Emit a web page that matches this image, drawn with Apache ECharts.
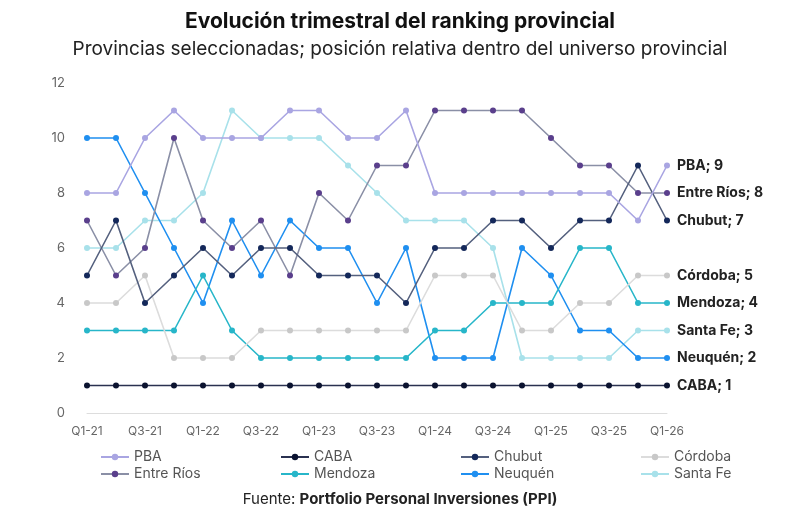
<!DOCTYPE html>
<html><head><meta charset="utf-8">
<script src="https://cdn.jsdelivr.net/npm/echarts@6/dist/echarts.min.js"></script>
<style>body{margin:0;background:#fff}#c{width:800px;height:522px}</style>
</head><body><div id="c"></div>
<script>
var quarters = ['Q1-21','Q2-21','Q3-21','Q4-21','Q1-22','Q2-22','Q3-22','Q4-22','Q1-23','Q2-23','Q3-23','Q4-23','Q1-24','Q2-24','Q3-24','Q4-24','Q1-25','Q2-25','Q3-25','Q4-25','Q1-26'];
var pba      = [8,8,10,11,10,10,10,11,11,10,10,11,8,8,8,8,8,8,8,7,9];
var caba     = [1,1,1,1,1,1,1,1,1,1,1,1,1,1,1,1,1,1,1,1,1];
var chubut   = [5,7,4,5,6,5,6,6,5,5,5,4,6,6,7,7,6,7,7,9,7];
var cordoba  = [4,4,5,2,2,2,3,3,3,3,3,3,5,5,5,3,3,4,4,5,5];
var entreRios= [7,5,6,10,7,6,7,5,8,7,9,9,11,11,11,11,10,9,9,8,8];
var mendoza  = [3,3,3,3,5,3,2,2,2,2,2,2,3,3,4,4,4,6,6,4,4];
var neuquen  = [10,10,8,6,4,7,5,7,6,6,4,6,2,2,2,6,5,3,3,2,2];
var santaFe  = [6,6,7,7,8,11,10,10,10,9,8,7,7,7,6,2,2,2,2,3,3];

var chart = echarts.init(document.getElementById('c'));
var F = 'Inter, "Noto Sans", sans-serif';

// nombre, datos, color de línea, color de punto
var defs = [
  ['PBA', pba, '#a9a5e2', '#a9a5e2'],
  ['CABA', caba, '#2a3150', '#0b1330'],
  ['Chubut', chubut, '#54607e', '#14285a'],
  ['Córdoba', cordoba, '#dcdcdc', '#c8c8c8'],
  ['Entre Ríos', entreRios, '#8a8fa6', '#5a3f8c'],
  ['Mendoza', mendoza, '#27b6c9', '#27b6c9'],
  ['Neuquén', neuquen, '#1f8ff0', '#1f8ff0'],
  ['Santa Fe', santaFe, '#a8e1ea', '#a8e1ea']
];
var legX = [95, 275, 455, 635];
var series = [], legends = [];
defs.forEach(function (d, i) {
  series.push({
    name: d[0], type: 'line', data: d[1],
    symbol: 'circle', symbolSize: 6,
    lineStyle: { color: d[2], width: 1.6 },
    itemStyle: { color: d[3] },
    color: d[2],
    endLabel: {
      show: true, distance: 10, fontFamily: F, fontSize: 14, fontWeight: 'bold', color: '#222',
      formatter: function (p) { return p.seriesName + '; ' + p.value; }
    },
    z: 10 - i
  });
  legends.push({
    data: [d[0]], left: legX[i % 4], top: i < 4 ? 445 : 462,
    itemWidth: 28, itemHeight: 8,
    textStyle: { fontFamily: F, fontSize: 14, color: '#555' }
  });
});

var option = {
  animation: false,
  title: [
    { text: 'Evolución trimestral del ranking provincial', left: 'center', top: 6,
      textStyle: { fontFamily: F, fontSize: 21, fontWeight: 'bold', color: '#111' } },
    { text: 'Provincias seleccionadas; posición relativa dentro del universo provincial', left: 'center', top: 35,
      textStyle: { fontFamily: F, fontSize: 19, fontWeight: 'normal', color: '#222' } },
    { text: 'Fuente: {b|Portfolio Personal Inversiones (PPI)}', left: 'center', top: 487,
      textStyle: { fontFamily: F, fontSize: 15, fontWeight: 'normal', color: '#222',
        rich: { b: { fontFamily: F, fontSize: 15, fontWeight: 'bold', color: '#222' } } } }
  ],
  legend: legends,
  grid: { left: 87, right: 133, top: 83, bottom: 109 },
  xAxis: {
    type: 'category', data: quarters, boundaryGap: false,
    axisLine: { lineStyle: { color: '#ddd' } }, axisTick: { show: false },
    axisLabel: { interval: 1, color: '#666', fontFamily: F, fontSize: 12, margin: 12 }
  },
  yAxis: {
    type: 'value', min: 0, max: 12, interval: 2,
    splitLine: { show: false }, axisLine: { show: false }, axisTick: { show: false },
    axisLabel: { color: '#666', fontFamily: F, fontSize: 13, margin: 22 }
  },
  series: series
};
chart.setOption(option);
</script></body></html>
